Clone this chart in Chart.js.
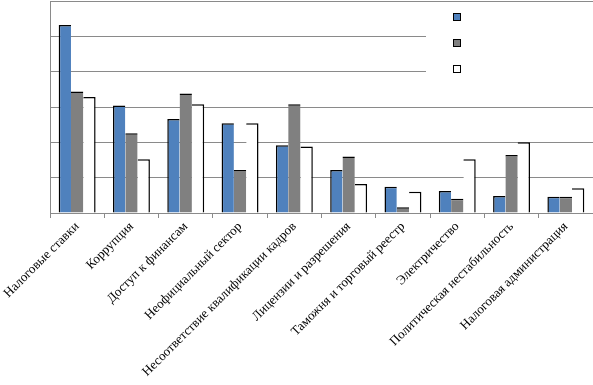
<!DOCTYPE html>
<html>
<head>
<meta charset="utf-8">
<script src="https://cdn.jsdelivr.net/npm/chart.js@4"></script>
<style>
  body { margin: 0; background: #fff; }
  #wrap { width: 593px; height: 385px; position: relative; }
</style>
</head>
<body>
<div id="wrap"><canvas id="barChart"></canvas></div>
<script>
// категории и ряды
const categories = [
  'Налоговые ставки', 'Коррупция', 'Доступ к финансам', 'Неофициальный сектор',
  'Несоответствие квалификации кадров', 'Лицензии и разрешения',
  'Таможня и торговый реестр', 'Электричество', 'Политическая нестабильность',
  'Налоговая администрация'
];
const series1 = [26.6, 15.2, 13.3, 12.7, 9.6, 6.1, 3.7, 3.1, 2.4, 2.3];
const series2 = [17.2, 11.3, 16.9, 6.1, 15.4, 8.0, 0.8, 2.0, 8.2, 2.3];
const series3 = [16.4, 7.6, 15.4, 12.7, 9.4, 4.1, 3.0, 7.6, 10.0, 3.5];
const yTicks = [0, 5, 10, 15, 20, 25, 30];

const colors = ['#4f81bd', '#808080', '#ffffff'];
const gridColor = '#8a8a8a';

// легенда без подписей, как в оригинале
const boxLegend = {
  id: 'boxLegend',
  afterDraw(chart) {
    const ctx = chart.ctx;
    ctx.save();
    ctx.fillStyle = '#fff';
    ctx.fillRect(426, 2, 167, 86);
    [13, 39, 65].forEach((y, i) => {
      ctx.fillStyle = colors[i];
      ctx.fillRect(453.5, y + 0.5, 7, 7);
      ctx.strokeStyle = '#000';
      ctx.lineWidth = 1;
      ctx.strokeRect(453.5, y + 0.5, 7, 7);
    });
    ctx.restore();
  }
};

new Chart(document.getElementById('barChart'), {
  type: 'bar',
  data: {
    labels: categories,
    datasets: [
      { data: series1, backgroundColor: colors[0], borderColor: '#000',
        borderWidth: { top: 1.5, left: 1.5, right: 0, bottom: 0 }, borderSkipped: false },
      { data: series2, backgroundColor: colors[1], borderColor: '#000',
        borderWidth: { top: 1.5, left: 0, right: 0, bottom: 0 }, borderSkipped: false },
      { data: series3, backgroundColor: colors[2], borderColor: '#000',
        borderWidth: { top: 1.5, left: 0, right: 1.5, bottom: 0 }, borderSkipped: false }
    ]
  },
  options: {
    responsive: true,
    maintainAspectRatio: false,
    animation: false,
    layout: { padding: { top: 1, right: 0, left: 0, bottom: 0 } },
    datasets: { bar: { categoryPercentage: 0.68, barPercentage: 1 } },
    plugins: { legend: { display: false }, tooltip: { enabled: false } },
    scales: {
      y: {
        min: 0, max: yTicks[yTicks.length - 1],
        afterBuildTicks: s => { s.ticks = yTicks.map(v => ({ value: v })); },
        ticks: { display: false },
        grid: { color: gridColor, drawTicks: false },
        border: { color: gridColor },
        afterFit: s => { s.width = 50; }
      },
      x: {
        offset: true,
        grid: { display: true, drawOnChartArea: false, drawTicks: true, tickLength: 5, color: gridColor, offset: true },
        border: { color: gridColor },
        ticks: {
          color: '#000', minRotation: 45, maxRotation: 45, autoSkip: false, padding: 1,
          font: { family: 'Liberation Serif', size: 13 }
        },
        afterFit: s => { s.height = 172; }
      }
    }
  },
  plugins: [boxLegend]
});
</script>
</body>
</html>
